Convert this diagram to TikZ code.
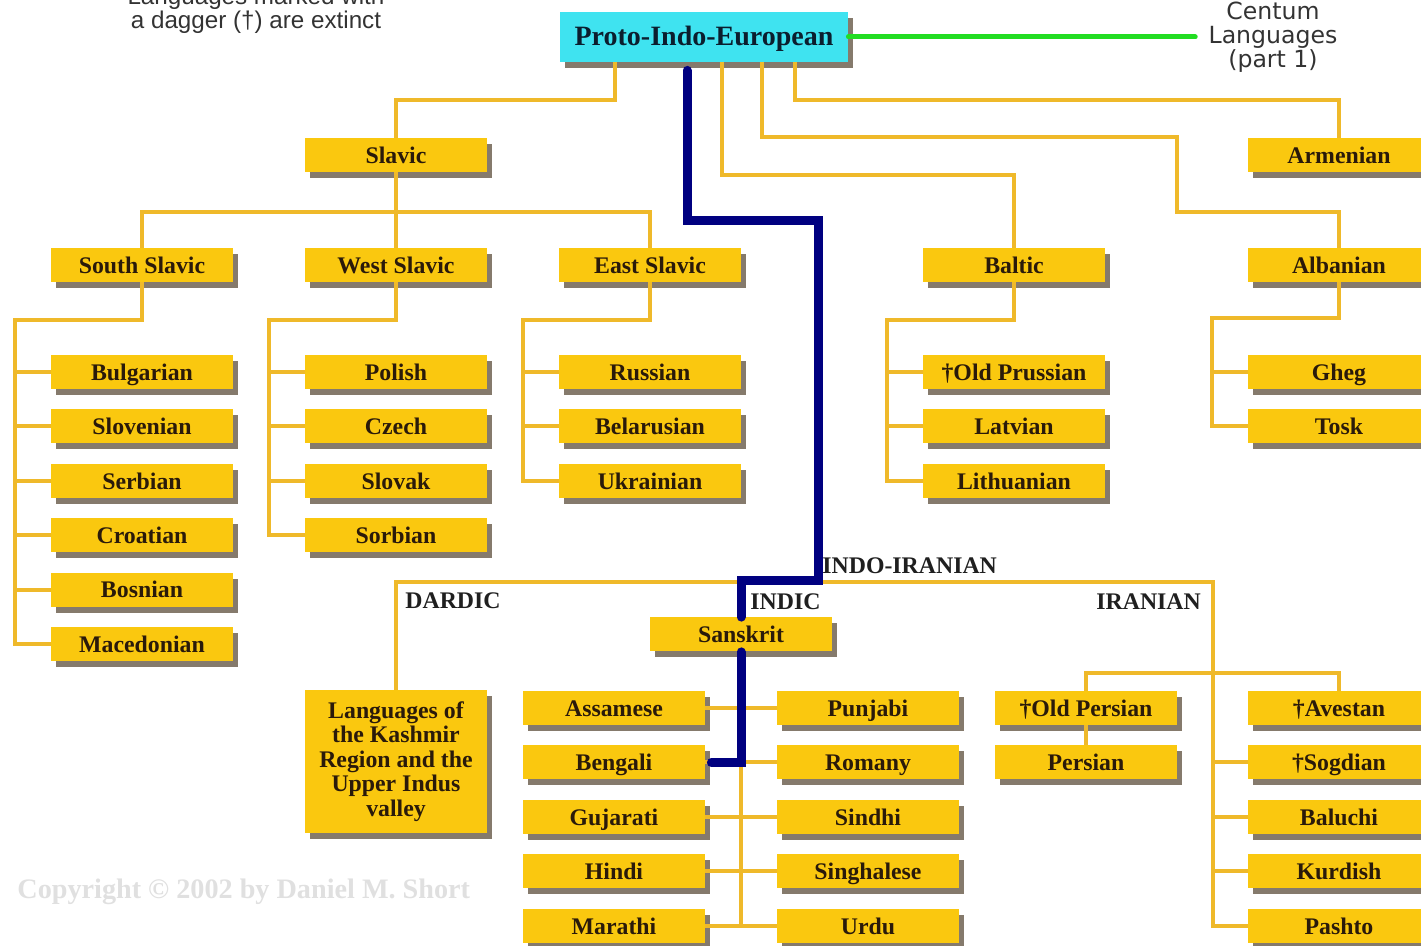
\documentclass[tikz,border=0pt]{standalone}
\usepackage{fontspec}
\setmainfont{Liberation Serif}
\newfontfamily\notefont{Liberation Sans}
\newfontfamily\centumfont{DejaVu Sans}
\usepackage{tikz}
\usetikzlibrary{shadows, positioning}
\definecolor{LangGold}{HTML}{FAC80F}
\definecolor{LangShadow}{HTML}{857A6C}
\definecolor{LangText}{HTML}{2A1A0A}
\definecolor{BranchGold}{HTML}{EFB92A}
\definecolor{PIECyan}{HTML}{3FE3F0}
\definecolor{PIEText}{HTML}{0B1E2E}
\definecolor{RouteNavy}{HTML}{000080}
\definecolor{CentumGreen}{HTML}{22DD22}
\definecolor{CopyGray}{HTML}{E0E0E0}

\tikzset{
  boxshadow/.style={drop shadow={shadow xshift=2.5pt, shadow yshift=-3pt, fill=LangShadow, opacity=1}},
  langblock/.style={fill=LangGold, text=LangText, minimum width=91pt, minimum height=17pt, inner sep=0pt,
    font=\fontsize{11.9}{12.2}\selectfont\bfseries, boxshadow},
  lang/.style={langblock, text height=9.6pt, text depth=1.2pt},
  branch/.style={draw=BranchGold, line width=2pt},
  route/.style={draw=RouteNavy, line width=4.5pt, line cap=round},
  grouplabel/.style={anchor=west, inner sep=0pt, text=black!88, font=\fontsize{11.9}{12}\selectfont\bfseries}
}

\begin{document}
\begin{tikzpicture}[x=0.5pt, y=-0.5pt]
  \useasboundingbox (0,0) rectangle (1421,946);
  \clip (0,0) rectangle (1421,946);

  % notes round the top
  \node[align=center, text=black!80, font=\notefont\fontsize{12.1}{12}\selectfont] (note) at (256,10) {Languages marked with\\a dagger (†) are extinct};
  \node[align=center, text=black!80, inner sep=6.5pt, font=\centumfont\fontsize{11.8}{12}\selectfont] (centum) at (1273,37) {Centum\\Languages\\(part 1)};
  \node[anchor=west, inner sep=0pt, text=CopyGray, font=\fontsize{14.1}{14}\selectfont\bfseries] (copy) at (17,892) {Copyright © 2002 by Daniel M. Short};

  % root and first branches
  \node[fill=PIECyan, text=PIEText, minimum width=144pt, minimum height=25pt, inner sep=0pt,
        text height=10.6pt, text depth=2pt,
        font=\fontsize{14}{14}\selectfont\bfseries, boxshadow] (pie) at (704,37) {Proto-Indo-European};
  \node[lang] (slavic) at (396,155) {Slavic};
  \node[lang] (armen) at (1339,155) {Armenian};
  \node[lang] (sslav) at (142,265) {South Slavic};
  \node[lang] (wslav) at (396,265) {West Slavic};
  \node[lang] (eslav) at (650,265) {East Slavic};
  \node[lang] (baltic) at (1014,265) {Baltic};
  \node[lang] (alban) at (1339,265) {Albanian};

  % language columns
  \foreach \nm/\txt [count=\k from 0] in {bulg/Bulgarian, slov/Slovenian, serb/Serbian, croat/Croatian, bosn/Bosnian, maced/Macedonian}
    \node[lang] (\nm) at (142,{372+54.4*\k}) {\txt};
  \foreach \nm/\txt [count=\k from 0] in {polish/Polish, czech/Czech, slovak/Slovak, sorb/Sorbian}
    \node[lang] (\nm) at (396,{372+54.4*\k}) {\txt};
  \foreach \nm/\txt [count=\k from 0] in {russ/Russian, belar/Belarusian, ukr/Ukrainian}
    \node[lang] (\nm) at (650,{372+54.4*\k}) {\txt};
  \foreach \nm/\txt [count=\k from 0] in {oprus/†Old Prussian, latv/Latvian, lith/Lithuanian}
    \node[lang] (\nm) at (1014,{372+54.4*\k}) {\txt};
  \foreach \nm/\txt [count=\k from 0] in {gheg/Gheg, tosk/Tosk}
    \node[lang] (\nm) at (1339,{372+54.4*\k}) {\txt};

  % indo-iranian
  \node[grouplabel] (iilabel) at (822,566) {INDO-IRANIAN};
  \node[grouplabel] (dardlabel) at (405,601) {DARDIC};
  \node[grouplabel] (indlabel) at (750,602) {INDIC};
  \node[grouplabel] (iranlabel) at (1096,602) {IRANIAN};
  \coordinate (iir) at (1213,582);
  \node[langblock, minimum height=71.5pt, align=center] (dardic) at (396,761.5) {Languages of\\the Kashmir\\Region and the\\Upper Indus\\valley};
  \node[lang] (sansk) at (741,634.5) {Sanskrit};
  \foreach \nm/\txt [count=\k from 0] in {assam/Assamese, bengali/Bengali, gujar/Gujarati, hindi/Hindi, marathi/Marathi}
    \node[lang] (\nm) at (614,{708+54.5*\k}) {\txt};
  \foreach \nm/\txt [count=\k from 0] in {punjabi/Punjabi, romany/Romany, sindhi/Sindhi, singh/Singhalese, urdu/Urdu}
    \node[lang] (\nm) at (868,{708+54.5*\k}) {\txt};
  \node[lang] (oldpers) at (1086,708) {†Old Persian};
  \node[lang] (pers) at (1086,762.5) {Persian};
  \foreach \nm/\txt [count=\k from 0] in {avest/†Avestan, sogd/†Sogdian, baluchi/Baluchi, kurd/Kurdish, pashto/Pashto}
    \node[lang] (\nm) at (1339,{708+54.5*\k}) {\txt};

  % connectors
  \draw[CentumGreen, line width=2.5pt, line cap=round] (pie.east) -- (centum.west);
  \draw[branch] (pie.south) ++(-89,0) -- ++(0,38) -| (slavic.north);
  \draw[branch] (pie.south) ++(18,0) -- ++(0,113) -| (baltic.north);
  \draw[branch] (pie.south) ++(58,0) -- ++(0,75) -| ++(415,75) -| (alban.north);
  \draw[branch] (pie.south) ++(91,0) -- ++(0,38) -| (armen.north);
  \draw[branch] (slavic.south) -- (wslav.north);
  \draw[branch] (sslav.north) -- ++(0,-36) -| (eslav.north);

  \draw[branch] (sslav.south) -- ++(0,38) -| ([xshift=-18pt]maced.west) -- (maced.west);
  \foreach \n in {bulg, slov, serb, croat, bosn}
    \draw[branch] (\n.west) -- ++(-36,0);
  \draw[branch] (wslav.south) -- ++(0,38) -| ([xshift=-18pt]sorb.west) -- (sorb.west);
  \foreach \n in {polish, czech, slovak}
    \draw[branch] (\n.west) -- ++(-36,0);
  \draw[branch] (eslav.south) -- ++(0,38) -| ([xshift=-18pt]ukr.west) -- (ukr.west);
  \foreach \n in {russ, belar}
    \draw[branch] (\n.west) -- ++(-36,0);
  \draw[branch] (baltic.south) -- ++(0,38) -| ([xshift=-18pt]lith.west) -- (lith.west);
  \foreach \n in {oprus, latv}
    \draw[branch] (\n.west) -- ++(-36,0);
  \draw[branch] (alban.south) -- ++(0,36) -| ([xshift=-18pt]tosk.west) -- (tosk.west);
  \draw[branch] (gheg.west) -- ++(-36,0);

  \draw[branch] (dardic.north) |- (iir) |- (pashto.west);
  \draw[branch] (sansk.north) -- (sansk.north |- iir);
  \foreach \n in {sogd, baluchi, kurd}
    \draw[branch] (\n.west) -- (\n.west -| iir);
  \draw[branch] (oldpers.north) -- ++(0,-18) -| (avest.north);
  \draw[branch] (oldpers.south) -- (pers.north);
  \draw[branch] (sansk.south) -- (sansk.south |- marathi.east);
  \foreach \a/\b in {assam/punjabi, bengali/romany, gujar/sindhi, hindi/singh, marathi/urdu}
    \draw[branch] (\a.east) -- (\b.west);

  % highlighted route
  \draw[route] (pie.south) ++(-17,8) -- ++(0,150) -| ++(131,360) -| (sansk.north);
  \draw[route] (sansk.south) |- ([xshift=3pt]bengali.east);
\end{tikzpicture}
\end{document}
